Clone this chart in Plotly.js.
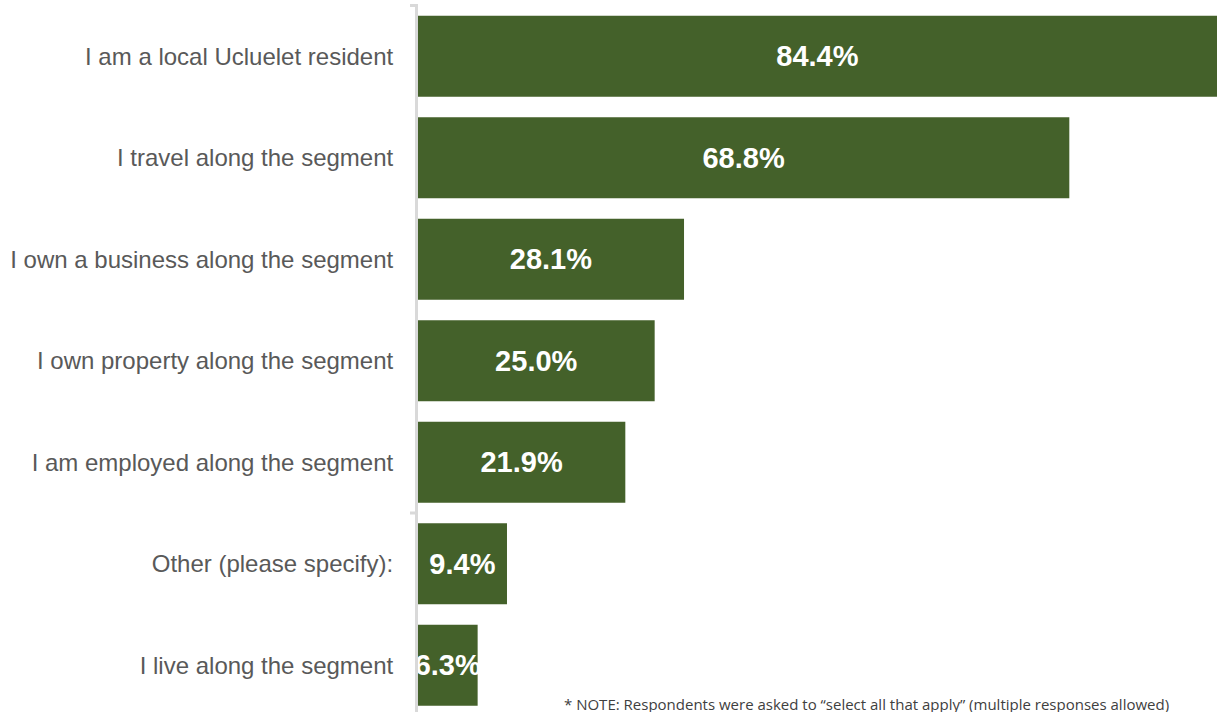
<!DOCTYPE html>
<html><head><meta charset="utf-8">
<script src="https://cdn.plot.ly/plotly-3.0.1.min.js"></script>
<style>html,body{margin:0;padding:0;overflow:hidden;background:#fff}#chart{width:1217px;height:722px}</style>
</head><body><div id="chart"></div>
<script>
const categories = ["I am a local Ucluelet resident","I travel along the segment","I own a business along the segment","I own property along the segment","I am employed along the segment","Other (please specify):","I live along the segment"];
const values = [84.4, 68.8, 28.1, 25.0, 21.9, 9.4, 6.3];
const labels = values.map(v => v.toFixed(1) + "%");
const footnote = "* NOTE: Respondents were asked to \u201cselect all that apply\u201d (multiple responses allowed)";

const trace = {
  type: "bar", orientation: "h", x: values, y: categories,
  marker: {color: "#44612A"},
  text: labels, textposition: "inside", insidetextanchor: "middle", constraintext: "none", textangle: 0,
  textfont: {family: "Liberation Sans, Arial, sans-serif", size: 29, color: "#ffffff", weight: "bold"},
  cliponaxis: false, hoverinfo: "none"
};
const tickLen = 8 / 799;
const layout = {
  width: 1217, height: 722,
  margin: {l: 418, r: 0, t: 4, b: 6},
  paper_bgcolor: "#fff", plot_bgcolor: "#fff",
  bargap: 0.2, showlegend: false,
  xaxis: {range: [0, 84.4], visible: false, fixedrange: true},
  yaxis: {autorange: "reversed", showline: true, linecolor: "#d9d9d9", linewidth: 3,
    ticks: "", ticklabelstandoff: 17, showgrid: false, zeroline: false,
    tickfont: {family: "Liberation Sans, Arial, sans-serif", size: 24, color: "#595959"}},
  shapes: [-0.5, 4.5].map(p => ({type: "line", xref: "paper", yref: "y", x0: -tickLen, x1: 0, y0: p, y1: p,
    line: {color: "#d9d9d9", width: 3}})),
  annotations: [{xref: "paper", yref: "paper", x: (563 - 418) / 799, y: 0.002, xanchor: "left", yanchor: "bottom",
    text: footnote, showarrow: false, borderpad: 0,
    font: {family: "Open Sans, sans-serif", size: 15, color: "#404040"}}]
};
Plotly.newPlot("chart", [trace], layout, {displayModeBar: false, staticPlot: true});
</script></body></html>
